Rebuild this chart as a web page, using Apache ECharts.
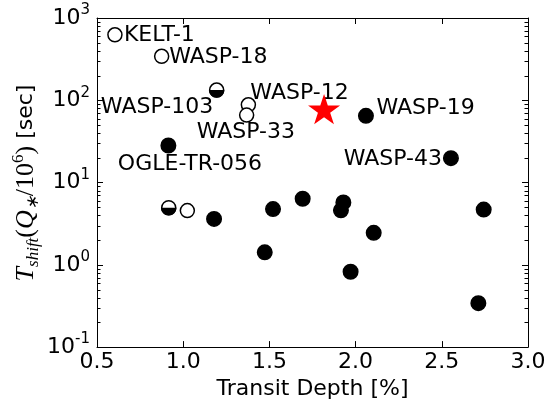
<!DOCTYPE html>
<html>
<head>
<meta charset="utf-8">
<script src="https://cdn.jsdelivr.net/npm/echarts@6/dist/echarts.min.js"></script>
<style>html,body{margin:0;padding:0;background:#fff;}#c{width:559px;height:405px;}</style>
</head>
<body>
<div id="c"></div>
<script>
// ---- data ----
const xTicks = [0.5, 1.0, 1.5, 2.0, 2.5, 3.0];
const yTickExponents = [-1, 0, 1, 2, 3];
const minorTickValues = [0.2,0.3,0.4,0.5,0.6,0.7,0.8,0.9, 2,3,4,5,6,7,8,9, 20,30,40,50,60,70,80,90, 200,300,400,500,600,700,800,900];

const filledNames = ['WASP-19', 'OGLE-TR-056', 'WASP-43', '', '', '', '', '', '', '', '', '', ''];
const filledX = [2.060, 0.914, 2.553, 1.179, 1.473, 1.521, 1.693, 1.929, 1.915, 1.971, 2.105, 2.743, 2.712];
const filledY = [64.7, 28.2, 19.8, 3.61, 1.42, 4.76, 6.35, 5.74, 4.60, 0.824, 2.45, 4.69, 0.342];

const openNames = ['KELT-1', 'WASP-18', 'WASP-12', 'WASP-33', ''];
const openX = [0.604, 0.875, 1.378, 1.368, 1.024];
const openY = [624, 342, 88, 66, 4.56];

const halfNames = ['WASP-103', ''];
const halfX = [1.194, 0.916];
const halfY = [133, 4.95];

const starX = [1.817];
const starY = [78];

// ---- label placement (pixel offsets from the marker centre) ----
const labelPlacement = {
  'KELT-1':      {align: 'left',  offset: [9, 0]},
  'WASP-18':     {align: 'left',  offset: [7.5, 1]},
  'WASP-12':     {align: 'left',  offset: [2, -12]},
  'WASP-33':     {align: 'left',  offset: [-50, 17]},
  'WASP-103':    {align: 'right', offset: [-3.5, 17.5]},
  'OGLE-TR-056': {align: 'left',  offset: [-50.5, 19]},
  'WASP-19':     {align: 'left',  offset: [10.5, -8]},
  'WASP-43':     {align: 'right', offset: [-9, 1.5]}
};

const FONT = 'DejaVu Sans';
const labelStyle = {fontSize: 22, fontFamily: FONT, color: '#000'};

function items(xs, ys, names) {
  return xs.map((x, i) => {
    const it = {value: [x, ys[i]]};
    const n = names ? names[i] : '';
    if (n) {
      const p = labelPlacement[n];
      it.label = Object.assign({show: true, formatter: n, position: 'inside',
        align: p.align, verticalAlign: 'middle', offset: p.offset}, labelStyle);
    }
    return it;
  });
}

const halfDisc = 'path://M0,0 C0,27.6 22.4,50 50,50 C77.6,50 100,27.6 100,0 Z';
const starPath = 'path://M100,0 L122.45,69.1 L195.11,69.1 L136.33,111.8 L158.78,180.9 L100,138.2 L41.22,180.9 L63.67,111.8 L4.89,69.1 L77.55,69.1 Z';

const chart = echarts.init(document.getElementById('c'), null, {renderer: 'canvas'});

const axisLineStyle = {show: true, lineStyle: {color: '#000', width: 1}};
const xBase = {
  type: 'value', min: 0.5, max: 3.0, interval: 0.5,
  axisLine: axisLineStyle, splitLine: {show: false},
  axisTick: {show: true, inside: true, length: 6, lineStyle: {color: '#000', width: 1}},
};
const yBase = {
  type: 'log', logBase: 10, min: 0.1, max: 1000,
  axisLine: axisLineStyle, splitLine: {show: false}, minorTick: {show: false},
  axisTick: {show: true, inside: true, length: 6, lineStyle: {color: '#000', width: 1}},
};

chart.setOption({
  animation: false,
  backgroundColor: '#fff',
  grid: {left: 97, right: 31, top: 18, bottom: 55, containLabel: false},
  xAxis: [
    Object.assign({}, xBase, {
      position: 'bottom',
      axisLabel: {show: true, fontSize: 22, fontFamily: FONT, color: '#000', margin: 4,
        formatter: v => v.toFixed(1)},
      name: 'Transit Depth [%]', nameLocation: 'middle', nameGap: 30,
      nameTextStyle: {fontSize: 22, fontFamily: FONT, color: '#000'}
    }),
    Object.assign({}, xBase, {position: 'top', axisLabel: {show: false}})
  ],
  yAxis: [
    Object.assign({}, yBase, {
      position: 'left',
      axisLabel: {
        show: true, margin: 7, color: '#000',
        formatter: v => '{b|10}{e|' + Math.round(Math.log10(v)) + '}',
        rich: {
          b: {fontSize: 22, fontFamily: FONT, color: '#000', lineHeight: 30, verticalAlign: 'middle'},
          e: {fontSize: 15, fontFamily: FONT, color: '#000', lineHeight: 15, verticalAlign: 'top'}
        }
      }
    }),
    Object.assign({}, yBase, {position: 'right', axisLabel: {show: false}})
  ],
  graphic: [{
    type: 'text', x: 26, y: 183, rotation: Math.PI / 2, z: 100,
    style: {
      text: '{T|T}{sub|shift}{p|(}{Q|Q}{sub|∗}{p|/10}{sup|6}{p|)}{s| [sec]}',
      align: 'center', verticalAlign: 'middle',
      rich: {
        T: {fontSize: 26, fontFamily: 'Liberation Serif', fontStyle: 'italic', lineHeight: 32, verticalAlign: 'middle', fill: '#000'},
        Q: {fontSize: 26, fontFamily: 'Liberation Serif', fontStyle: 'italic', lineHeight: 32, verticalAlign: 'middle', fill: '#000'},
        p: {fontSize: 26, fontFamily: 'Liberation Serif', lineHeight: 32, verticalAlign: 'middle', fill: '#000'},
        sub: {fontSize: 17, fontFamily: 'Liberation Serif', fontStyle: 'italic', lineHeight: 17, verticalAlign: 'bottom', fill: '#000'},
        sup: {fontSize: 17, fontFamily: 'Liberation Serif', lineHeight: 17, verticalAlign: 'top', fill: '#000'},
        s: {fontSize: 22, fontFamily: FONT, lineHeight: 32, verticalAlign: 'middle', fill: '#000'}
      }
    }
  }],
  series: [
    {
      type: 'custom', xAxisIndex: 0, yAxisIndex: 0, silent: true, clip: false, z: 1,
      data: minorTickValues.map(v => [0.5, v]),
      renderItem: (params, api) => {
        const pt = api.coord([api.value(0), api.value(1)]);
        const cs = params.coordSys;
        const y = Math.round(pt[1]) + 0.5;
        return {type: 'group', children: [
          {type: 'line', shape: {x1: cs.x, y1: y, x2: cs.x + 3.5, y2: y}, style: {stroke: '#000', lineWidth: 1}},
          {type: 'line', shape: {x1: cs.x + cs.width - 3.5, y1: y, x2: cs.x + cs.width, y2: y}, style: {stroke: '#000', lineWidth: 1}}
        ]};
      }
    },
    {
      type: 'scatter', xAxisIndex: 0, yAxisIndex: 0, z: 3,
      symbol: 'circle', symbolSize: 14.5,
      itemStyle: {color: '#000', borderColor: '#000', borderWidth: 1.5, opacity: 1},
      data: items(filledX, filledY, filledNames)
    },
    {
      type: 'scatter', xAxisIndex: 0, yAxisIndex: 0, z: 3,
      symbol: 'circle', symbolSize: 14,
      itemStyle: {color: '#fff', borderColor: '#000', borderWidth: 1.5, opacity: 1},
      data: items(openX, openY, openNames)
    },
    {
      type: 'scatter', xAxisIndex: 0, yAxisIndex: 0, z: 3,
      symbol: 'circle', symbolSize: 14,
      itemStyle: {color: '#fff', borderColor: '#000', borderWidth: 1.5, opacity: 1},
      data: items(halfX, halfY, halfNames)
    },
    {
      type: 'scatter', xAxisIndex: 0, yAxisIndex: 0, z: 4, silent: true,
      symbol: halfDisc, symbolSize: [15.5, 7.75], symbolOffset: [0, 3.875],
      itemStyle: {color: '#000', opacity: 1},
      data: items(halfX, halfY, null)
    },
    {
      type: 'scatter', xAxisIndex: 0, yAxisIndex: 0, z: 5,
      symbol: starPath, symbolSize: [32, 30.4],
      itemStyle: {color: '#ff0000', opacity: 1},
      data: items(starX, starY, null)
    }
  ]
});
</script>
</body>
</html>
